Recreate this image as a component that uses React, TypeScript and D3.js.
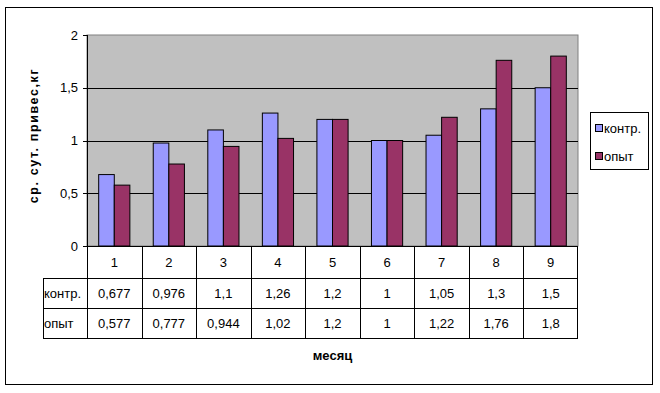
import React from "react";
import * as d3 from "d3";

const categories = ["1", "2", "3", "4", "5", "6", "7", "8", "9"];
const seriesNames = ["контр.", "опыт"];
const kontr = [0.677, 0.976, 1.1, 1.26, 1.2, 1, 1.05, 1.3, 1.5];
const opyt = [0.577, 0.777, 0.944, 1.02, 1.2, 1, 1.22, 1.76, 1.8];
const kontrLabels = ["0,677", "0,976", "1,1", "1,26", "1,2", "1", "1,05", "1,3", "1,5"];
const opytLabels = ["0,577", "0,777", "0,944", "1,02", "1,2", "1", "1,22", "1,76", "1,8"];
const yTicks = [0, 0.5, 1, 1.5, 2];
const yTickLabels = ["0", "0,5", "1", "1,5", "2"];
const colors = ["#9999FF", "#993366"];

export default function App() {
  const W = 660, H = 393;
  const left = 87, right = 578, top = 35, bottom = 246;
  const rowH = [32, 30, 30];
  const labelLeft = 43;
  const font = "Arial, 'Liberation Sans', sans-serif";
  const fs = 13;

  const x = d3.scaleBand().domain(categories).range([left, right]).paddingInner(0).paddingOuter(0);
  const y = d3.scaleLinear().domain([0, 2]).range([bottom, top]);
  const bw = x.bandwidth() / 3.5;
  const gap = bw * 0.75;
  const series = [kontr, opyt];
  const rowsLabels = [kontrLabels, opytLabels];

  const r1 = bottom + rowH[0];
  const r2 = r1 + rowH[1];
  const r3 = r2 + rowH[2];

  return (
    <svg width={W} height={H} style={{ position: "absolute", left: 0, top: 0 }} fontFamily={font}>
      <rect x={0} y={0} width={W} height={H} fill="#fff" />
      <rect x={5.5} y={7.5} width={647} height={377} fill="#fff" stroke="#000" strokeWidth={1} />
      {/* plot area */}
      <rect x={left} y={top} width={right - left} height={bottom - top} fill="#C0C0C0" stroke="#808080" strokeWidth={1} />
      {yTicks.slice(1, -1).map((t) => (
        <line key={t} x1={left} x2={right} y1={Math.round(y(t)) + 0.5} y2={Math.round(y(t)) + 0.5} stroke="#000" />
      ))}
      {/* bars */}
      {categories.map((c, i) => (
        <g key={c}>
          {series.map((s, k) => (
            <rect
              key={k}
              x={(x(c) as number) + gap + k * bw}
              y={y(s[i])}
              width={bw}
              height={bottom - y(s[i])}
              fill={colors[k]}
              stroke="#000"
              strokeWidth={1}
            />
          ))}
        </g>
      ))}
      {/* y axis */}
      <line x1={left + 0.5} x2={left + 0.5} y1={top} y2={bottom} stroke="#000" />
      {yTicks.map((t, i) => (
        <g key={t}>
          <line x1={left - 4} x2={left} y1={Math.round(y(t)) + 0.5} y2={Math.round(y(t)) + 0.5} stroke="#000" />
          <text x={left - 9} y={y(t)} dy="0.35em" textAnchor="end" fontSize={fs} fill="#000">
            {yTickLabels[i]}
          </text>
        </g>
      ))}
      <text
        transform={`translate(38,${(top + bottom) / 2 - 5}) rotate(-90)`}
        textAnchor="middle"
        fontSize={12.5}
        fontWeight="bold"
        letterSpacing={1.6}
        fill="#000"
      >
        ср. сут. привес,кг
      </text>
      {/* data table */}
      <g stroke="#000" strokeWidth={1} fill="none">
        <line x1={left} x2={right} y1={bottom + 0.5} y2={bottom + 0.5} />
        <line x1={labelLeft} x2={right} y1={r1 + 0.5} y2={r1 + 0.5} />
        <line x1={labelLeft} x2={right} y1={r2 + 0.5} y2={r2 + 0.5} />
        <line x1={labelLeft} x2={right} y1={r3 + 0.5} y2={r3 + 0.5} />
        <line x1={labelLeft + 0.5} x2={labelLeft + 0.5} y1={r1} y2={r3} />
        {categories.map((c) => (
          <line key={c} x1={Math.round(x(c) as number) + 0.5} x2={Math.round(x(c) as number) + 0.5} y1={bottom} y2={r3} />
        ))}
        <line x1={right - 0.5} x2={right - 0.5} y1={bottom} y2={r3} />
      </g>
      {categories.map((c, i) => {
        const cx = (x(c) as number) + x.bandwidth() / 2;
        return (
          <g key={c} fontSize={fs} fill="#000" textAnchor="middle">
            <text x={cx} y={(bottom + r1) / 2} dy="0.35em">{c}</text>
            <text x={cx} y={(r1 + r2) / 2} dy="0.35em">{rowsLabels[0][i]}</text>
            <text x={cx} y={(r2 + r3) / 2} dy="0.35em">{rowsLabels[1][i]}</text>
          </g>
        );
      })}
      <text x={labelLeft + 1} y={(r1 + r2) / 2} dy="0.35em" fontSize={fs} fill="#000">{seriesNames[0]}</text>
      <text x={labelLeft + 1} y={(r2 + r3) / 2} dy="0.35em" fontSize={fs} fill="#000">{seriesNames[1]}</text>
      <text x={(left + right) / 2} y={355} dy="0.35em" textAnchor="middle" fontSize={fs} fontWeight="bold" fill="#000">
        месяц
      </text>
      {/* legend */}
      <rect x={590.5} y={112.5} width={58} height={57} fill="#fff" stroke="#000" />
      {seriesNames.map((n, k) => (
        <g key={n}>
          <rect x={595.5} y={124.5 + k * 28} width={7} height={7} fill={colors[k]} stroke="#000" />
          <text x={604} y={128 + k * 28} dy="0.35em" fontSize={fs} fill="#000">{n}</text>
        </g>
      ))}
    </svg>
  );
}
